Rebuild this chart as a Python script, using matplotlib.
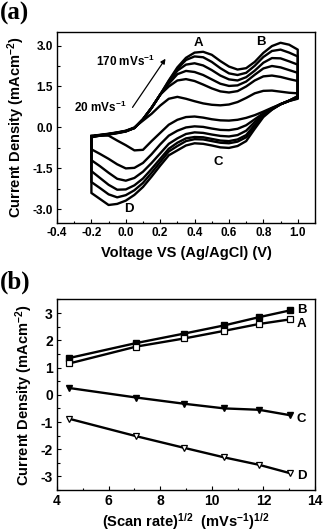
import numpy as np
import matplotlib
matplotlib.use("Agg")
import matplotlib.pyplot as plt
from matplotlib.ticker import MultipleLocator

plt.rcParams['font.family'] = ['Liberation Sans', 'DejaVu Sans']
plt.rcParams['font.weight'] = 'bold'
plt.rcParams['axes.labelweight'] = 'bold'
plt.rcParams['axes.unicode_minus'] = False
plt.rcParams['mathtext.fontset'] = 'custom'
plt.rcParams['mathtext.rm'] = 'Liberation Sans:bold'
plt.rcParams['mathtext.it'] = 'Liberation Sans:bold'
plt.rcParams['mathtext.bf'] = 'Liberation Sans:bold'

# ---- panel (a): cyclic voltammograms, one loop per scan rate ----
volts = [-0.2, -0.15, -0.1, -0.05, 0.0, 0.05, 0.1, 0.15, 0.2, 0.25, 0.3, 0.35, 0.4,
         0.45, 0.5, 0.55, 0.6, 0.65, 0.7, 0.75, 0.8, 0.85, 0.9, 0.95, 1.0]

# anodic sweep (-0.2 -> 1.0)
fwd_20 = [-0.31, -0.27, -0.23, -0.18, -0.12, 0.0, 0.25, 0.5, 0.8, 1.05, 1.12, 1.05, 0.96,
          0.88, 0.83, 0.81, 0.84, 0.93, 1.08, 1.25, 1.34, 1.35, 1.31, 1.27, 1.25]
fwd_50 = [-0.32, -0.28, -0.24, -0.19, -0.13, -0.02, 0.3, 0.72, 1.2, 1.5, 1.72, 1.77, 1.7,
          1.57, 1.43, 1.32, 1.28, 1.33, 1.5, 1.72, 1.87, 1.9, 1.85, 1.77, 1.7]
fwd_80 = [-0.33, -0.28, -0.24, -0.19, -0.13, -0.02, 0.3, 0.72, 1.2, 1.6, 1.95, 2.07, 2.03,
          1.92, 1.76, 1.6, 1.52, 1.54, 1.68, 1.93, 2.16, 2.25, 2.2, 2.1, 2.0]
fwd_110 = [-0.34, -0.29, -0.25, -0.2, -0.14, -0.02, 0.3, 0.72, 1.2, 1.65, 2.08, 2.3, 2.35,
           2.27, 2.1, 1.9, 1.76, 1.72, 1.84, 2.08, 2.37, 2.54, 2.53, 2.42, 2.3]
fwd_140 = [-0.35, -0.3, -0.25, -0.2, -0.14, -0.02, 0.3, 0.72, 1.2, 1.7, 2.15, 2.47, 2.6,
           2.57, 2.4, 2.17, 1.98, 1.92, 2.0, 2.26, 2.58, 2.8, 2.85, 2.74, 2.6]
fwd_170 = [-0.36, -0.3, -0.26, -0.21, -0.15, -0.02, 0.3, 0.72, 1.2, 1.72, 2.2, 2.55, 2.74,
           2.77, 2.66, 2.43, 2.23, 2.12, 2.17, 2.4, 2.73, 2.98, 3.1, 3.03, 2.85]

# cathodic sweep, listed on the same voltage grid (-0.2 -> 1.0)
rev_20 = [-0.32, -0.3, -0.3, -0.48, -0.65, -0.84, -0.82, -0.5, -0.2, 0.1, 0.28, 0.38, 0.4,
          0.36, 0.3, 0.26, 0.25, 0.28, 0.35, 0.45, 0.58, 0.72, 0.85, 0.97, 1.05]
rev_50 = [-0.8, -0.97, -1.15, -1.35, -1.5, -1.48, -1.3, -0.98, -0.62, -0.3, -0.12, 0.0, 0.04,
          0.02, -0.04, -0.09, -0.1, -0.05, 0.08, 0.3, 0.52, 0.7, 0.85, 0.97, 1.07]
rev_80 = [-1.2, -1.42, -1.66, -1.88, -1.95, -1.85, -1.62, -1.3, -0.95, -0.6, -0.4, -0.24, -0.18,
          -0.2, -0.26, -0.31, -0.33, -0.28, -0.12, 0.2, 0.48, 0.68, 0.85, 0.98, 1.1]
rev_110 = [-1.6, -1.85, -2.1, -2.28, -2.27, -2.12, -1.87, -1.52, -1.15, -0.78, -0.56, -0.4, -0.35,
           -0.36, -0.42, -0.48, -0.5, -0.44, -0.28, 0.1, 0.45, 0.67, 0.85, 0.98, 1.12]
rev_140 = [-2.0, -2.22, -2.45, -2.56, -2.48, -2.3, -2.03, -1.66, -1.27, -0.88, -0.68, -0.5, -0.43,
           -0.44, -0.5, -0.56, -0.58, -0.52, -0.36, 0.03, 0.42, 0.66, 0.85, 0.98, 1.13]
rev_170 = [-2.4, -2.62, -2.84, -2.8, -2.68, -2.47, -2.18, -1.8, -1.4, -1.02, -0.84, -0.66, -0.58,
           -0.6, -0.66, -0.73, -0.75, -0.68, -0.5, -0.05, 0.38, 0.65, 0.85, 0.98, 1.15]

fwd_curves = [fwd_20, fwd_50, fwd_80, fwd_110, fwd_140, fwd_170]
rev_curves = [rev_20, rev_50, rev_80, rev_110, rev_140, rev_170]

# ---- panel (b): peak currents vs sqrt(scan rate) ----
sqrt_rate = [4.47, 7.07, 8.94, 10.49, 11.83, 13.04]
peak_B = [1.35, 1.9, 2.25, 2.55, 2.85, 3.1]
peak_A = [1.15, 1.77, 2.07, 2.35, 2.6, 2.77]
peak_C = [0.25, -0.1, -0.33, -0.5, -0.55, -0.75]
peak_D = [-0.88, -1.52, -1.95, -2.3, -2.57, -2.88]

fig = plt.figure(figsize=(3.24, 5.31), dpi=100)

ax1 = fig.add_axes([0.176, 0.58, 0.796, 0.36])
v = np.array(volts)
for f, r in zip(fwd_curves, rev_curves):
    x = np.concatenate([v, v[::-1], v[:1]])
    y = np.concatenate([f, r[::-1], f[:1]])
    ax1.plot(x, y, color='black', lw=1.7, solid_joinstyle='round')

ax1.set_xlim(-0.4, 1.1)
ax1.set_ylim(-3.5, 3.5)
ax1.set_xticks([-0.4, -0.2, 0.0, 0.2, 0.4, 0.6, 0.8, 1.0])
ax1.set_xticklabels(['-0.4', '-0.2', '0.0', '0.2', '0.4', '0.6', '0.8', '1.0'])
ax1.set_yticks([-3.0, -1.5, 0.0, 1.5, 3.0])
ax1.set_yticklabels(['-3.0', '-1.5', '0.0', '1.5', '3.0'])
ax1.xaxis.set_minor_locator(MultipleLocator(0.1))
ax1.yaxis.set_minor_locator(MultipleLocator(0.75))
ax1.set_xlabel('Voltage VS (Ag/AgCl) (V)', fontsize=10.5, labelpad=5)
ax1.set_ylabel('Current Density (mAcm$^{-2}$)', fontsize=10.5, labelpad=4)

ax1.text(0.425, 3.1, 'A', fontsize=9.5, ha='center', va='center')
ax1.text(0.785, 3.13, 'B', fontsize=9.5, ha='center', va='center')
ax1.text(0.54, -1.25, 'C', fontsize=9.5, ha='center', va='center')
ax1.text(0.02, -3.0, 'D', fontsize=9.5, ha='center', va='center')
ax1.text(0.0, 2.4, '170 mVs$^{-1}$', fontsize=8.5, ha='center', va='center')
ax1.text(-0.15, 0.72, '20 mVs$^{-1}$', fontsize=8.5, ha='center', va='center')
ax1.annotate('', xy=(0.24, 2.6), xytext=(0.03, 0.65),
             arrowprops=dict(arrowstyle='-|>', color='black', lw=0.9,
                             mutation_scale=7))

ax2 = fig.add_axes([0.176, 0.077, 0.796, 0.359])
ax2.plot(sqrt_rate, peak_B, color='black', lw=1.7, marker='s', ms=4,
         mfc='black', mec='black')
ax2.plot(sqrt_rate, peak_A, color='black', lw=1.7, marker='s', ms=4,
         mfc='white', mec='black', mew=0.9)
ax2.plot(sqrt_rate, peak_C, color='black', lw=1.7, marker='v', ms=4.5,
         mfc='black', mec='black')
ax2.plot(sqrt_rate, peak_D, color='black', lw=1.7, marker='v', ms=4.5,
         mfc='white', mec='black', mew=0.9)

ax2.set_xlim(4, 14)
ax2.set_ylim(-3.5, 3.5)
ax2.xaxis.set_major_locator(MultipleLocator(2))
ax2.xaxis.set_minor_locator(MultipleLocator(1))
ax2.yaxis.set_major_locator(MultipleLocator(1))
ax2.yaxis.set_minor_locator(MultipleLocator(0.5))
ax2.set_xlabel('(Scan rate)$^{1/2}$  (mVs$^{-1}$)$^{1/2}$', fontsize=10.5, labelpad=2)
ax2.set_ylabel('Current Density (mAcm$^{-2}$)', fontsize=10.5, labelpad=4)

ax2.text(13.3, 3.13, 'B', fontsize=9.5, ha='left', va='center')
ax2.text(13.3, 2.61, 'A', fontsize=9.5, ha='left', va='center')
ax2.text(13.3, -0.9, 'C', fontsize=9.5, ha='left', va='center')
ax2.text(13.3, -3.0, 'D', fontsize=9.5, ha='left', va='center')

for ax, size in ((ax1, 8.5), (ax2, 10)):
    ax.tick_params(which='both', direction='in', labelsize=size, pad=3)
    ax.tick_params(which='major', length=3, width=0.8)
    ax.tick_params(which='minor', length=1.8, width=0.8)
    for s in ax.spines.values():
        s.set_linewidth(1.0)
    for lab in ax.get_xticklabels() + ax.get_yticklabels():
        lab.set_fontweight('bold')

fig.text(0.0, 0.997, '(a)', fontsize=18, fontweight='bold', family='Liberation Serif',
         ha='left', va='top')
fig.text(0.0, 0.49, '(b)', fontsize=18, fontweight='bold', family='Liberation Serif',
         ha='left', va='top')

fig.savefig('out.png', dpi=100)
